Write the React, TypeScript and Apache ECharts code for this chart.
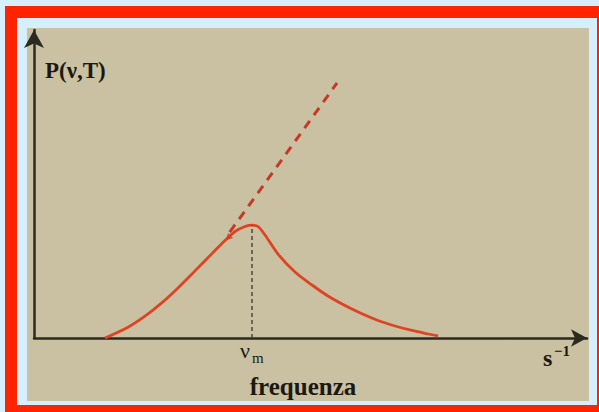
import React, { useEffect, useRef } from "react";
import * as echarts from "echarts";

// Planck curve (arbitrary units, 0–100 on both axes)
const frequency = [12.84, 17.0, 20.07, 23.15, 26.04, 29.11, 32.19, 34.54, 36.35, 38.16, 39.42, 40.51, 41.77, 44.12, 47.2, 50.27, 53.16, 56.24, 59.31, 62.21, 65.28, 68.35, 71.25, 73.06];
const intensity = [0, 3.51, 7.08, 11.49, 16.27, 21.79, 27.4, 31.66, 34.58, 36.2, 36.62, 36.2, 33.44, 27.27, 21.43, 17.21, 13.64, 10.55, 7.86, 5.68, 3.9, 2.44, 1.3, 0.65];
// Rayleigh-Jeans (classical) dashed line
const classicalX = [35.4, 54.8];
const classicalY = [34.4, 82.8];
const peakX = 39.42;
const peakY = 36.62;
const markerPoint = [35.1, 32.5];

const yLabel = "P(ν,T)";
const xName = "frequenza";
const peakLabel = "ν";
const peakSub = "m";
const unitBase = "s";
const unitSup = "−1";

export default function App() {
  const ref = useRef<HTMLDivElement>(null);
  useEffect(() => {
    document.body.style.margin = "0";
    document.body.style.overflow = "hidden";
    const chart = echarts.init(ref.current!, null, { renderer: "svg" });
    const textColor = "#1c1810";
    const serif = "'Liberation Serif', 'DejaVu Serif', serif";
    chart.setOption({
      animation: false,
      grid: { left: 34, top: 30, width: 553, height: 308, containLabel: false },
      xAxis: {
        type: "value",
        min: 0,
        max: 100,
        axisLine: {
          show: true,
          onZero: false,
          symbol: ["none", "arrow"],
          symbolSize: [13, 16],
          lineStyle: { color: "#2b2a22", width: 2.5 },
        },
        axisTick: { show: false },
        axisLabel: { show: false },
        splitLine: { show: false },
      },
      yAxis: {
        type: "value",
        min: 0,
        max: 100,
        axisLine: {
          show: true,
          onZero: false,
          symbol: ["none", "arrow"],
          symbolSize: [15, 18],
          lineStyle: { color: "#2b2a22", width: 2.5 },
        },
        axisTick: { show: false },
        axisLabel: { show: false },
        splitLine: { show: false },
      },
      series: [
        {
          type: "line",
          data: classicalX.map((x, i) => [x, classicalY[i]]),
          showSymbol: false,
          lineStyle: { color: "#c43a26", width: 3, type: [9, 7] },
          z: 3,
        },
        {
          type: "line",
          data: frequency.map((x, i) => [x, intensity[i]]),
          smooth: 0.3,
          showSymbol: false,
          lineStyle: { color: "#de4424", width: 2.8 },
          z: 4,
          markLine: {
            silent: true,
            symbol: ["none", "none"],
            label: { show: false },
            lineStyle: { color: "#4a483e", width: 1.5, type: [4, 3] },
            data: [[{ coord: [peakX, 0] }, { coord: [peakX, peakY] }]],
          },
        },
        {
          type: "scatter",
          data: [markerPoint],
          symbol: "triangle",
          symbolSize: 7,
          symbolRotate: 135,
          itemStyle: { color: "#d83a22" },
          z: 5,
        },
      ],
      graphic: [
        { type: "text", x: 45, y: 70, style: { text: yLabel, font: `bold 23px ${serif}`, fill: textColor, verticalAlign: "middle" } },
        { type: "text", x: 240, y: 350, style: { text: peakLabel, font: `22px ${serif}`, fill: textColor, verticalAlign: "middle" } },
        { type: "text", x: 252, y: 358, style: { text: peakSub, font: `15px ${serif}`, fill: textColor, verticalAlign: "middle" } },
        { type: "text", x: 303, y: 386, style: { text: xName, font: `bold 25px ${serif}`, fill: textColor, verticalAlign: "middle", align: "center" } },
        { type: "text", x: 543, y: 358, style: { text: unitBase, font: `bold 24px ${serif}`, fill: textColor, verticalAlign: "middle" } },
        { type: "text", x: 554, y: 351, style: { text: unitSup, font: `bold 15px ${serif}`, fill: textColor, verticalAlign: "middle" } },
      ],
    });
    return () => chart.dispose();
  }, []);

  return (
    <div style={{ position: "fixed", left: 0, top: 0, width: 599, height: 412, background: "#d6effd", overflow: "hidden" }}>
      <div style={{ position: "absolute", left: 5, top: 6, width: 620, height: 430, background: "#ff2400" }} />
      <div style={{ position: "absolute", left: 17, top: 18, width: 580, height: 387, background: "#d6effd" }} />
      <div style={{ position: "absolute", left: 27, top: 28, width: 562, height: 373, background: "#c9c1a2" }} />
      <div ref={ref} style={{ position: "absolute", left: 0, top: 0, width: 599, height: 412 }} />
    </div>
  );
}
